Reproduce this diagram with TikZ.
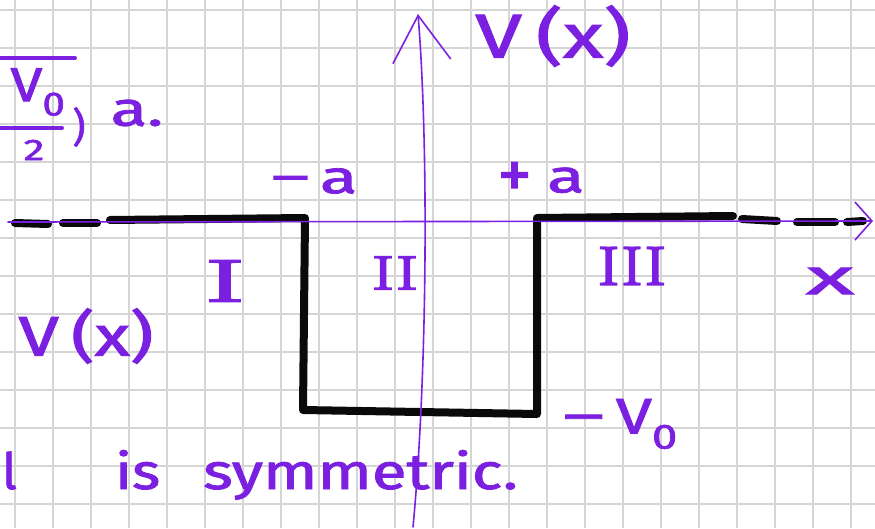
\documentclass[tikz,border=0pt]{standalone}
\usepackage{fontspec}
\newfontfamily\penface{Fira Sans}[FakeBold=1.6]
\newfontfamily\romanface{Latin Modern Roman}[FakeBold=3]
\usepackage{tikz}
\usetikzlibrary{arrows.meta}
\definecolor{penpurple}{HTML}{7B1FE0}
\definecolor{penblack}{HTML}{0A0A0A}
\definecolor{gridgray}{HTML}{D5D5D5}
\newcommand{\penfont}[1]{\fontsize{#1}{#1}\selectfont}
\newcommand{\longminus}{\scalebox{1.9}[1]{−}}
\tikzset{
  gridline/.style={draw=gridgray,line width=1.6pt},
  axis/.style={draw=penpurple,line width=1.6pt,line cap=round},
  well/.style={draw=penblack,line width=8pt,line cap=round,line join=round},
  hw/.style={text=penpurple,font=\penface,inner sep=0pt},
  roman/.style={text=penpurple,font=\romanface,inner sep=0pt},
}

\begin{document}
\begin{tikzpicture}[x=1pt,y=-1pt]
  \fill[white] (0,0) rectangle (875,528);
  \useasboundingbox (0,0) rectangle (875,528);
  % squared paper
  \foreach \gx in {15,53,...,851} \draw[gridline] (\gx,0) -- (\gx,528);
  \foreach \gy in {10,48,...,504} \draw[gridline] (0,\gy) -- (875,\gy);
  % finite square well
  \coordinate (wl) at (110,220); \coordinate (tl) at (305,218);
  \coordinate (bl) at (303,410); \coordinate (br) at (537,414);
  \coordinate (tr) at (537,218); \coordinate (wr) at (733,216);
  \draw[well] (wl) -- (tl) -- (bl) -- (br) -- (tr) -- (wr);
  \foreach \xa/\ya/\xb/\yb in {15/223/48/224,63/223/97/223,742/219/777/221,797/222/835/222,847/222/863/221}
     \draw[well] (\xa,\ya) -- (\xb,\yb);
  % axes
  \coordinate (hl) at (8,222); \coordinate (hr) at (873,221);
  \coordinate (vbot) at (413,527); \coordinate (vtop) at (418,14);
  \draw[axis,-{Straight Barb[length=17pt,width=38pt,line width=1.6pt]}] (hl) -- (hr);
  \draw[axis,-{Straight Barb[length=46pt,width=58pt,line width=1.6pt]}] (vbot) .. controls (427,380) and (429,150) .. (vtop);
  % labels
  \node[hw] (vtitle) at (553,36) {\penfont{62}\scalebox{1.35}[1]{V\,(x)}};
  \node[hw] (minusa) at (313,181) {\penfont{46}\longminus\,\scalebox{1.5}[1]{a}};
  \node[hw] (plusa) at (541,180) {\penfont{46}\raisebox{-0.12em}{\scalebox{1.5}{+}}\,\,\scalebox{1.5}[1]{a}};
  \node[roman] (regI) at (225,281) {\penfont{60}\scalebox{2}[1]{I}};
  \node[roman] (regII) at (395,273) {\penfont{48}\scalebox{1.4}[1]{II}};
  \node[roman] (regIII) at (632,266) {\penfont{55}\scalebox{1.2}[1]{III}};
  \node[hw] (xlab) at (830,281) {\penfont{50}\scalebox{2}[1]{x}};
  \node[hw] (depth) at (619,424) {\penfont{50}\longminus\,\scalebox{1.3}[1]{V\textsubscript{0}}};
  \node[hw] (vleft) at (86,336) {\penfont{56}\scalebox{1.3}[1]{V\,(x)}};
  % note text
  \node[hw,anchor=base west] (nl) at (2,489) {\penfont{50}l};
  \node[hw,anchor=base west] (nis) at (115,489) {\penfont{50}\scalebox{1.2}[1]{is}};
  \node[hw,anchor=base west] (nsym) at (203,489) {\penfont{50}\scalebox{1.27}[1]{symmetric.}};
  % formula fragment, upper left
  \draw[axis,line width=4pt] (0,58) -- (75,58);
  \node[hw] (fnum) at (38,92) {\penfont{48}\scalebox{1.2}[1]{V\textsubscript{0}}};
  \draw[axis,line width=4pt] (0,128) -- (62,128);
  \node[hw] (fden) at (34,150) {\penfont{30}\scalebox{1.4}[1]{2}};
  \node[hw] (fpar) at (79,127) {\penfont{40})};
  \node[hw] (fa) at (137,113) {\penfont{48}\scalebox{1.4}[1]{a.}};
\end{tikzpicture}
\end{document}
